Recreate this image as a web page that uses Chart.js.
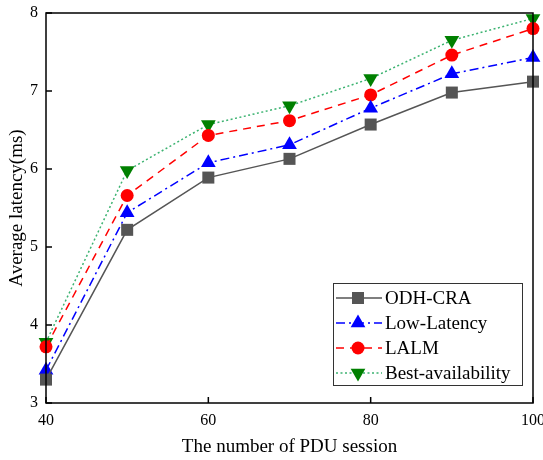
<!DOCTYPE html>
<html>
<head>
<meta charset="utf-8">
<script src="https://cdn.jsdelivr.net/npm/chart.js@4"></script>
<style>
  body { margin: 0; background: #fff; }
  #wrap { width: 543px; height: 460px; }
</style>
</head>
<body>
<div id="wrap"><canvas id="c" width="543" height="460"></canvas></div>
<script>
const sessions = [40, 50, 60, 70, 80, 90, 100];
const odhCra = [3.30, 5.22, 5.89, 6.13, 6.57, 6.98, 7.12];
const lowLatency = [3.42, 5.44, 6.08, 6.31, 6.78, 7.22, 7.43];
const lalm = [3.72, 5.66, 6.43, 6.62, 6.95, 7.46, 7.80];
const bestAvail = [3.78, 5.98, 6.57, 6.81, 7.16, 7.65, 7.93];
const xTicks = [40, 60, 80, 100];
const yTicks = [3, 4, 5, 6, 7, 8];

const FONT = "'Liberation Serif', 'Times New Roman', serif";

const pts = arr => arr.map((v, i) => ({ x: sessions[i], y: v }));

const datasets = [
  { label: "ODH-CRA", data: pts(odhCra), borderColor: "#555555", backgroundColor: "#555555",
    borderDash: [], pointStyle: "rect", pointRadius: 8.5, pointRotation: 0, legendLine: "#555555" },
  { label: "Low-Latency", data: pts(lowLatency), borderColor: "#0000ff", backgroundColor: "#0000ff",
    borderDash: [9, 4, 2, 4], pointStyle: "triangle", pointRadius: 8.5, pointRotation: 0, legendLine: "#0000ff" },
  { label: "LALM", data: pts(lalm), borderColor: "#ff0000", backgroundColor: "#ff0000",
    borderDash: [8, 6], pointStyle: "circle", pointRadius: 6.5, pointRotation: 0, legendLine: "#ff0000" },
  { label: "Best-availability", data: pts(bestAvail), borderColor: "#3cb371", backgroundColor: "#008000",
    borderDash: [2, 2.5], pointStyle: "triangle", pointRadius: 8.5, pointRotation: 180, legendLine: "#3cb371" }
].map(d => Object.assign(d, {
  borderWidth: 1.5, tension: 0, clip: false,
  pointBorderWidth: 0, pointBorderColor: d.backgroundColor, pointBackgroundColor: d.backgroundColor
}));

const frame = {
  id: "frame",
  afterDatasetsDraw(chart) {
    const { ctx, chartArea: a, scales } = chart;
    ctx.save();
    ctx.strokeStyle = "#000";
    ctx.lineWidth = 1.5;
    ctx.strokeRect(a.left, a.top, a.right - a.left, a.bottom - a.top);
    ctx.beginPath();
    xTicks.forEach(t => {
      const px = scales.x.getPixelForValue(t);
      ctx.moveTo(px, a.bottom);
      ctx.lineTo(px, a.bottom - 6);
    });
    yTicks.forEach(t => {
      const py = scales.y.getPixelForValue(t);
      ctx.moveTo(a.left, py);
      ctx.lineTo(a.left + 6, py);
    });
    ctx.stroke();

    // legend box
    const bx = 333, by = 283, bw = 189, bh = 102;
    ctx.fillStyle = "#fff";
    ctx.fillRect(bx, by, bw, bh);
    ctx.lineWidth = 1;
    ctx.strokeStyle = "#333";
    ctx.strokeRect(bx + 0.5, by + 0.5, bw, bh);
    chart.data.datasets.forEach((d, i) => {
      const y = by + 15 + i * 25;
      ctx.beginPath();
      ctx.setLineDash(d.borderDash);
      ctx.strokeStyle = d.legendLine;
      ctx.lineWidth = 1.5;
      ctx.moveTo(bx + 3, y);
      ctx.lineTo(bx + 49, y);
      ctx.stroke();
      ctx.setLineDash([]);
      ctx.fillStyle = d.backgroundColor;
      Chart.helpers.drawPoint(ctx, {
        pointStyle: d.pointStyle, radius: d.pointRadius, rotation: d.pointRotation, borderWidth: 0
      }, bx + 25, y);
      ctx.fillStyle = "#000";
      ctx.font = "19px " + FONT;
      ctx.textBaseline = "middle";
      ctx.textAlign = "left";
      ctx.fillText(d.label, bx + 52, y + 1);
    });
    ctx.restore();
  }
};

new Chart(document.getElementById("c"), {
  type: "line",
  data: { datasets },
  options: {
    responsive: false,
    animation: false,
    layout: { padding: { top: 13, right: 10, left: 0, bottom: 0 } },
    plugins: { legend: { display: false }, tooltip: { enabled: false } },
    scales: {
      x: {
        type: "linear", min: 40, max: 100,
        afterBuildTicks: s => { s.ticks = xTicks.map(v => ({ value: v })); },
        afterFit: s => { s.height = 57; s.paddingLeft = 0; s.paddingRight = 0; },
        grid: { display: false },
        border: { display: false },
        ticks: { color: "#000", font: { family: FONT, size: 16 }, padding: 0, maxRotation: 0 },
        title: { display: true, text: "The number of PDU session", color: "#000",
                 font: { family: FONT, size: 19 }, padding: { top: 4, bottom: 2 } }
      },
      y: {
        min: 3, max: 8,
        afterBuildTicks: s => { s.ticks = yTicks.map(v => ({ value: v })); },
        afterFit: s => { s.width = 46; s.paddingTop = 0; s.paddingBottom = 0; },
        grid: { display: false },
        border: { display: false },
        ticks: { color: "#000", font: { family: FONT, size: 16 }, padding: 0 },
        title: { display: true, text: "Average latency(ms)", color: "#000",
                 font: { family: FONT, size: 19 }, padding: { top: 6, bottom: 0 } }
      }
    }
  },
  plugins: [frame]
});
</script>
</body>
</html>
